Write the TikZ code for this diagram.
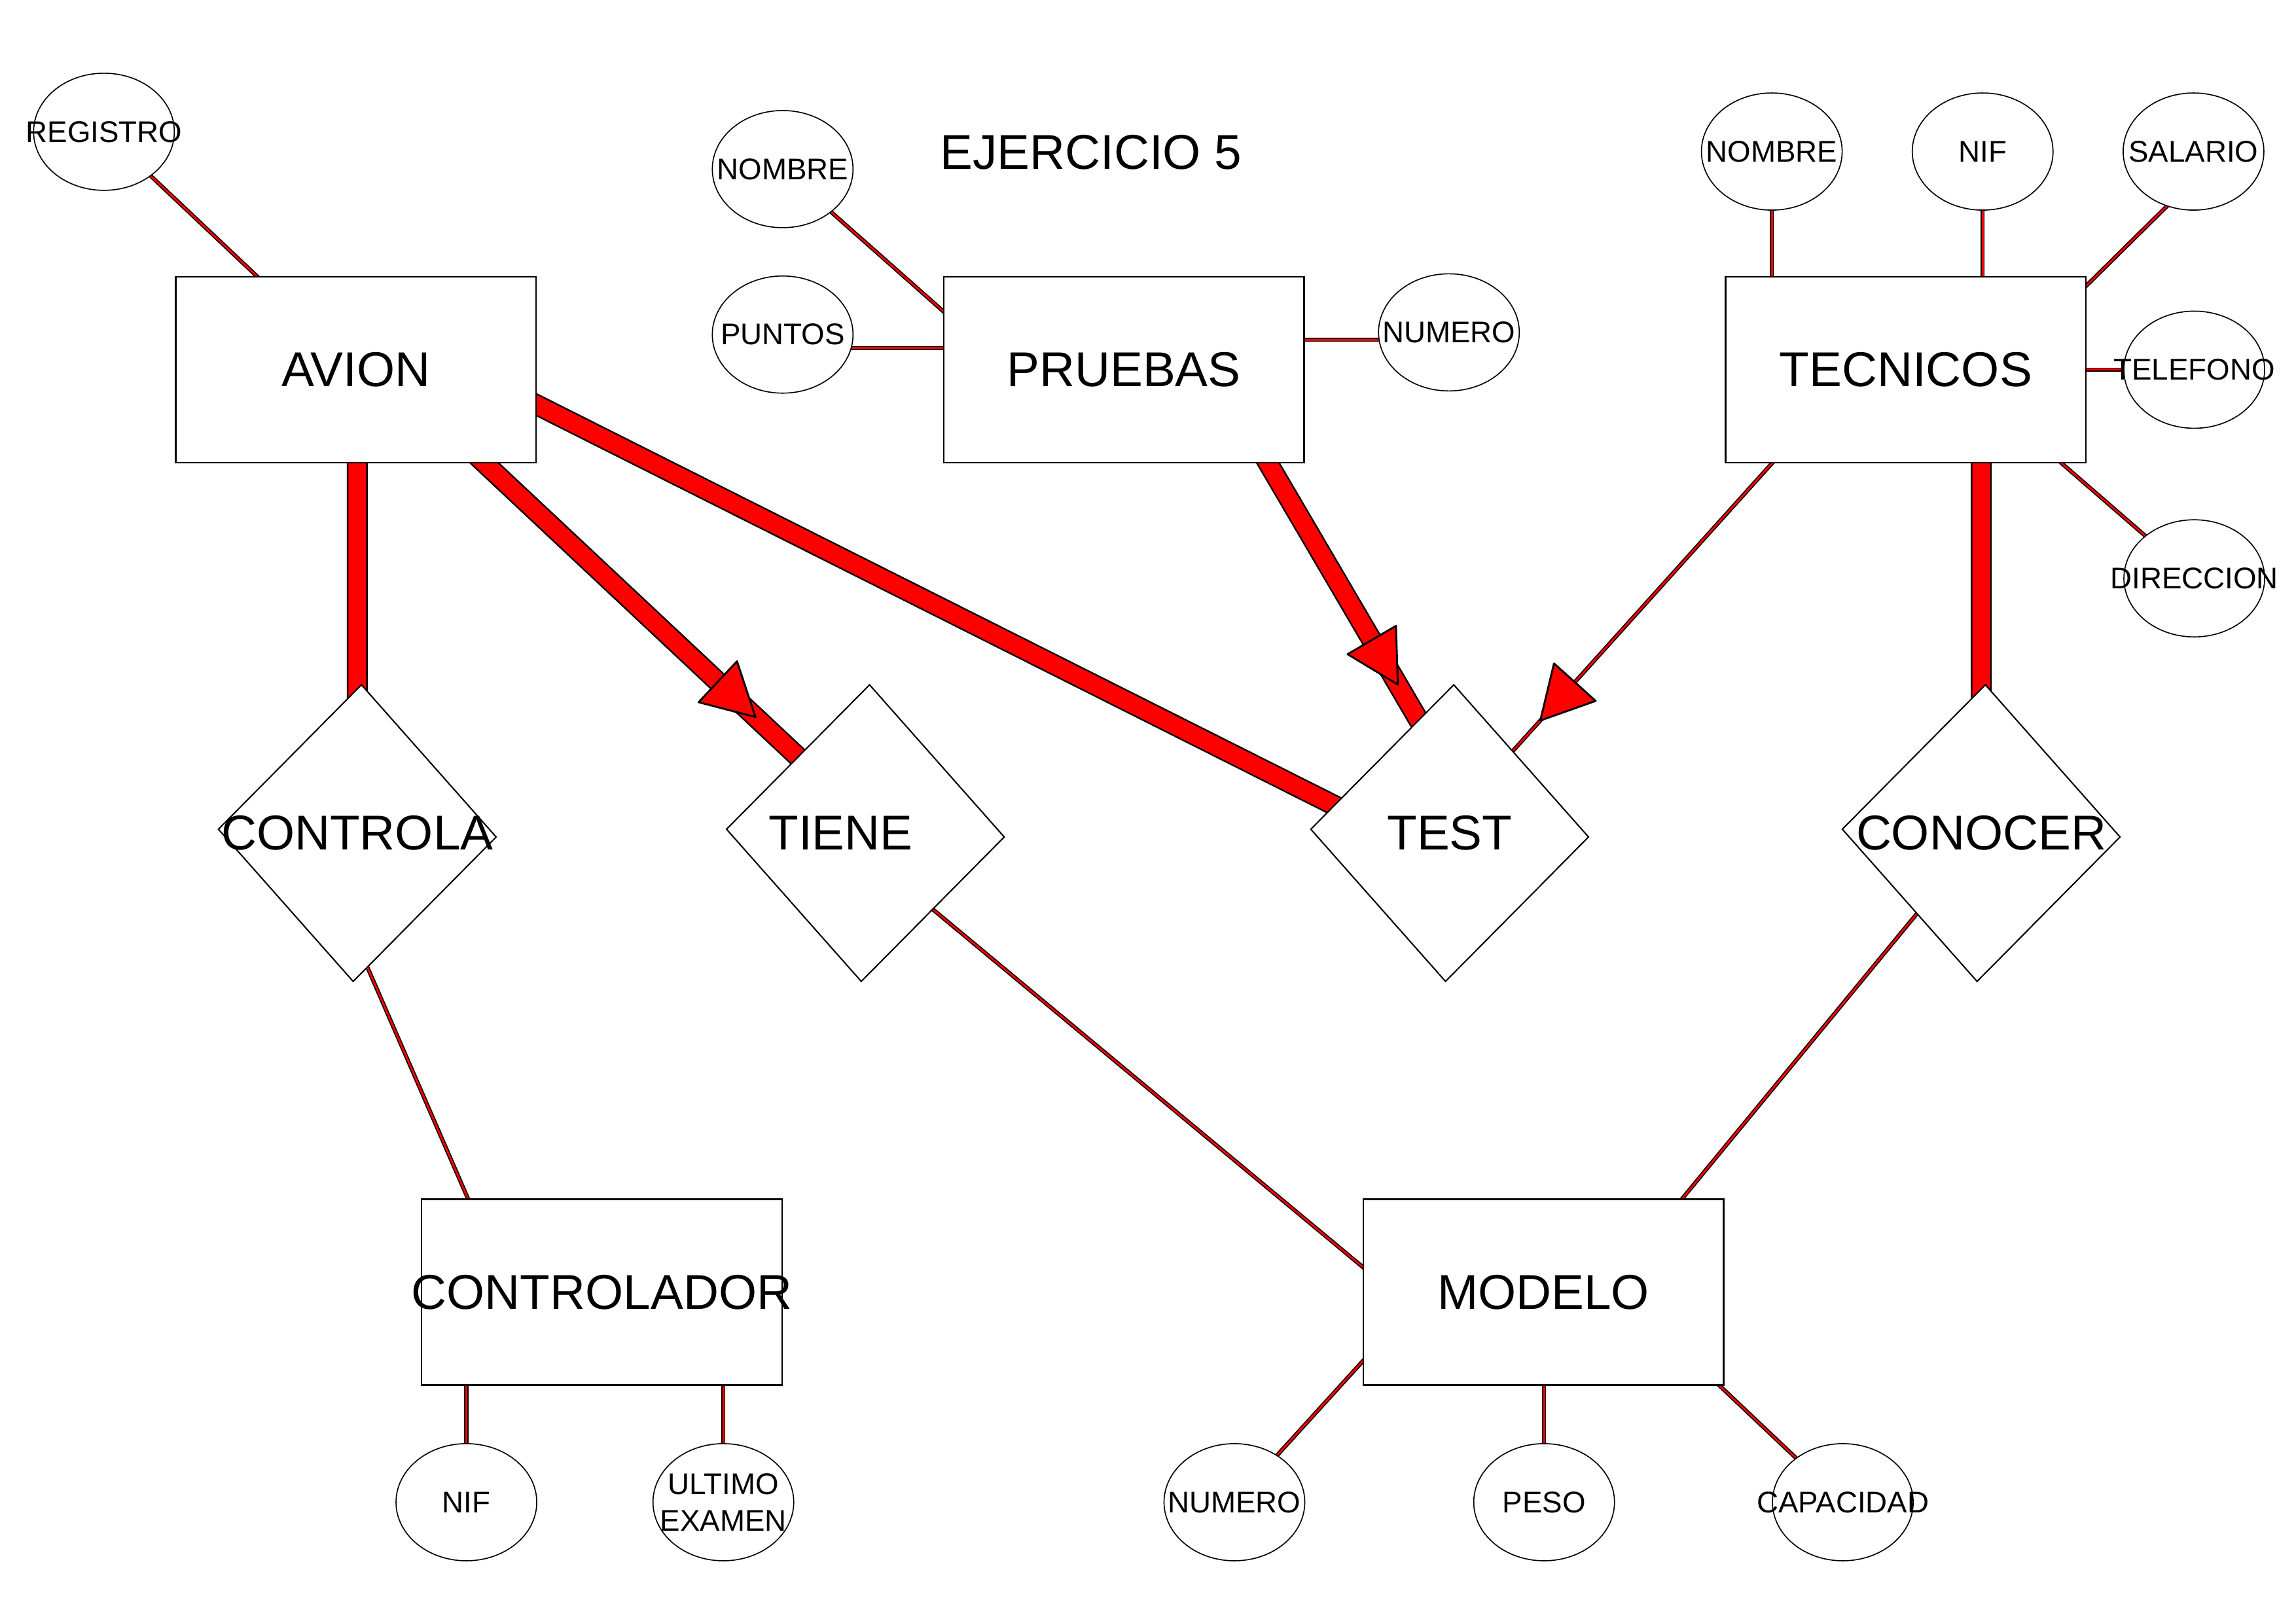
\documentclass[tikz,border=0pt]{standalone}
\usepackage{fontspec}
\setmainfont{Liberation Sans}
\usepackage{tikz}
\usetikzlibrary{shapes.geometric,backgrounds}

\newcommand{\entfont}{\fontsize{18}{21}\selectfont}
\newcommand{\attrfont}{\fontsize{11}{13.4}\selectfont}

\tikzset{
  entidad/.style={draw, fill=white, line width=0.6pt, inner sep=0pt,
    minimum width=4.66cm, minimum height=2.405cm,
    label={[font=\entfont]center:#1}},
  rombo/.style={diamond, draw, fill=white, line width=0.5pt, inner sep=0pt,
    rotate=-1.6, minimum width=3.6cm, minimum height=3.845cm},
  relacion/.style={rombo, label={[font=\entfont]center:#1}},
  atributo/.style={ellipse, draw, fill=white, line width=0.4pt, inner sep=0pt,
    minimum width=1.82cm, minimum height=1.515cm,
    label={[font=\attrfont, align=center]center:#1}},
  linea/.style={draw=black, line width=0.4pt, double=red, double distance=0.7pt,
    shorten <=-1pt, shorten >=-1pt},
  gruesa/.style={draw=black, line width=0.6pt, double=red, double distance=6.5pt,
    shorten <=-6pt, shorten >=-6pt},
  punta/.style={isosceles triangle, isosceles triangle apex angle=57,
    draw=black, fill=red, line width=0.7pt, line join=round, inner sep=0pt,
    minimum width=19pt, minimum height=19pt, anchor=apex, sloped,
    allow upside down}
}

\begin{document}
\begin{tikzpicture}[x=0.018941cm, y=-0.018941cm]
\useasboundingbox (0,0) rectangle (1568,1108.5);

% Titulo
\node[font=\entfont] (titulo) at (745,104) {EJERCICIO 5};

% Entidades
\node[entidad=AVION] (avion) at (243,252.5) {};
\node[entidad=PRUEBAS] (pruebas) at (767.5,252.5) {};
\node[entidad=TECNICOS] (tec) at (1301.5,252.5) {};
\node[entidad=CONTROLADOR] (contr) at (411,882.5) {};
\node[entidad=MODELO] (modelo) at (1054,882.5) {};

% Relaciones
\node[relacion=CONTROLA] (controla) at (244,569) {};
\node[rombo, label={[font=\entfont, xshift=-0.32cm]center:TIENE}] (tiene) at (591,569) {};
\node[relacion=TEST] (test) at (990,569) {};
\node[relacion=CONOCER] (conocer) at (1353,569) {};

% Atributos
\node[atributo=REGISTRO] (registro) at (71,90) {};
\node[atributo=NOMBRE] (nomP) at (534.5,115.5) {};
\node[atributo=PUNTOS] (puntos) at (534.5,228.5) {};
\node[atributo=NUMERO] (numP) at (989.5,227) {};
\node[atributo=NOMBRE] (nomT) at (1210,103.5) {};
\node[atributo=NIF] (nifT) at (1354,103.5) {};
\node[atributo=SALARIO] (salario) at (1498,103.5) {};
\node[atributo=TELEFONO] (telefono) at (1498.5,252.5) {};
\node[atributo=DIRECCION] (direccion) at (1498.5,395) {};
\node[atributo=NIF] (nifC) at (318.5,1026) {};
\node[atributo={ULTIMO\\EXAMEN}] (ultimo) at (494,1026) {};
\node[atributo=NUMERO] (numM) at (843,1026) {};
\node[atributo=PESO] (peso) at (1054.5,1026) {};
\node[atributo=CAPACIDAD] (capacidad) at (1258.5,1026) {};

\begin{scope}[on background layer]
\fill[white] (0,0) rectangle (1568,1108.5);

% Atributos - entidades
\draw[linea] (registro) -- (avion);
\draw[linea] (nomP) -- (pruebas.162);
\draw[linea] (puntos.-11) -- (pruebas.west |- puntos.-11);
\draw[linea] (pruebas.east |- numP.186) -- (numP.186);
\draw[linea] (nomT) -- (nomT |- tec.north);
\draw[linea] (nifT) -- (nifT |- tec.north);
\draw[linea] (salario.-116) -- (tec.25);
\draw[linea] (tec.east) -- (telefono);
\draw[linea] (tec.-31) -- (direccion);
\draw[linea] (nifC |- contr.south) -- (nifC);
\draw[linea] (ultimo |- contr.south) -- (ultimo);
\draw[linea] (modelo.-159) -- (numM);
\draw[linea] (peso |- modelo.south) -- (peso);
\draw[linea] (modelo.-28) -- (capacidad);

% Entidades - relaciones
\draw[gruesa] (controla |- avion.south) -- (controla);
\draw[gruesa] (avion.-36) -- (tiene.north west);
\path (avion.-36) -- (tiene.north west) node[punta, pos=0.87] (p1) {};
\draw[gruesa] (avion.-11) -- (test.168);
\draw[gruesa] (pruebas.-33) -- (test.107);
\path (pruebas.-33) -- (test.107) node[punta, pos=0.87] (p2) {};
\draw[linea] (tec.-145) -- (test.54);
\path (tec.-145) -- (test.54) node[punta, pos=0.9] (p3) {};
\draw[gruesa] (conocer |- tec.south) -- (conocer);
\draw[linea] (controla.-84) -- (contr.145);
\draw[linea] (tiene.south east) -- (modelo.172);
\draw[linea] (conocer.-127) -- (modelo.34);
\end{scope}

\end{tikzpicture}
\end{document}
